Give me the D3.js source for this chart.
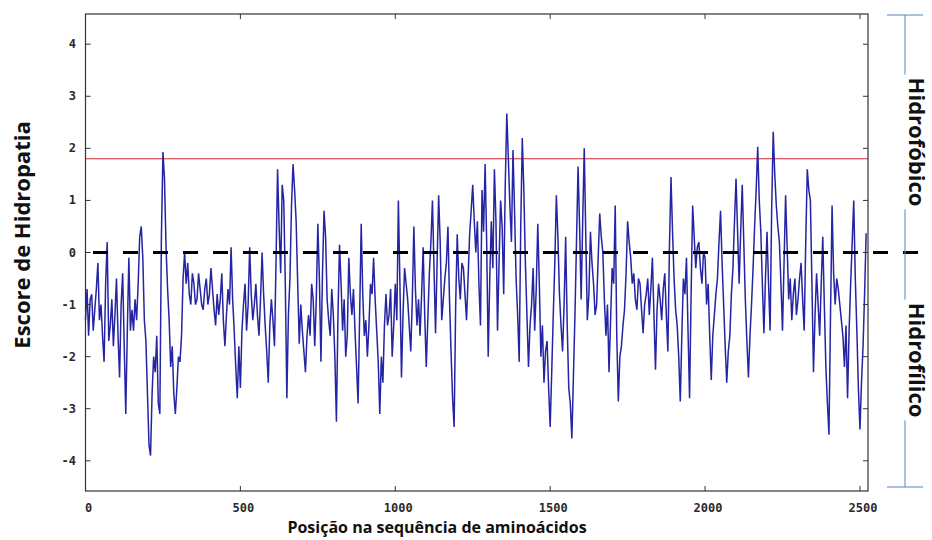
<!DOCTYPE html>
<html>
<head>
<meta charset="utf-8">
<script src="https://cdn.jsdelivr.net/npm/d3@7"></script>
<style>
  body { margin: 0; background: #fff; }
  svg { display: block; }
  .tick-label { font-family: "DejaVu Sans Mono", monospace; font-weight: bold; font-size: 12px; fill: #2a2a2a; }
  .title { font-family: "Open Sans", "Noto Sans", sans-serif; font-weight: bold; fill: #111; }
</style>
</head>
<body>
<svg id="chart" width="932" height="540"></svg>
<script>
// --- dados: escore de hidropatia (uma leitura a cada 5 resíduos) ---
const step = 5;
const hydropathy = [
  // 0 - 420
  -1.3, -0.7, -1.6, -0.9, -0.8, -1.5, -1.1, -0.7, -0.2, -1.3,
  -1.0, -1.6, -2.1, -0.6, 0.2, -1.7, -1.4, -0.9, -1.8, -1.2,
  -0.5, -1.6, -2.4, -1.0, -0.4, -1.8, -3.1, -1.5, -0.1, -1.5,
  -1.1, -1.5, -0.9, -1.3, -0.6, 0.3, 0.5, -0.1, -1.3, -1.7,
  -2.7, -3.7, -3.9, -2.7, -2.0, -2.3, -1.6, -2.9, -3.1, 0.3,
  1.93, 1.4, 0.1, -0.7, -1.3, -2.2, -1.8, -2.7, -3.1, -2.6,
  -2.0, -2.1, -1.6, -0.5, 0.0, -0.6, -0.2, -0.8, -1.0, -0.4,
  -0.6, -1.0, -0.9, -0.4, -0.7, -1.0, -1.1, -0.7, -0.5, -1.0,
  -0.8, -0.3, -0.7, -1.1, -1.4,
  // 425 - 840
  -0.8, -1.2, -0.9, -0.4, -1.3, -1.8, -1.2, -0.7, -1.0, 0.1,
  -0.9, -1.5, -2.2, -2.8, -1.8, -2.6, -1.5, -1.0, -0.6, -1.5,
  -1.0, 0.1, -0.8, -1.3, -1.0, -0.6, -1.2, -1.6, -0.9, 0.0,
  -0.8, -1.4, -1.9, -2.5, -1.4, -0.9, -1.3, -1.8, -0.2, 1.6,
  0.5, -0.4, 1.3, 1.0, -0.6, -2.8, -1.2, -0.5, 0.9, 1.7,
  1.2, 0.6, -0.6, -1.75, -1.0, -1.5, -1.9, -2.3, -1.6, -1.2,
  -1.6, -0.6, -0.9, -1.8, -0.9, 0.55, -0.5, -2.1, -0.4, 0.8,
  0.3, -0.9, -1.3, -1.6, -0.7, -1.2, -2.0, -3.25, -1.2, 0.15,
  -0.6, -1.5, -0.9, -2.0,
  // 845 - 1260
  -1.6, -0.1, -0.8, -1.2, -0.7, -1.5, -2.2, -2.9, -1.2, 0.55,
  -0.8, -1.6, -1.3, -2.0, -1.4, -0.6, -0.8, -0.1, -0.9, -1.5,
  -2.1, -3.1, -2.0, -2.5, -1.4, -0.8, -1.4, -1.2, -0.7, -2.0,
  -1.4, -0.6, -1.3, 1.0, -0.6, -2.4, -1.2, -0.3, -0.6, -0.9,
  -1.4, -1.9, -0.9, 0.5, -0.7, -1.4, -0.9, -1.6, -0.8, 0.1,
  -1.2, -2.2, -1.3, -0.4, 0.2, 1.0, -0.3, -1.55, -0.2, 1.1,
  0.2, -1.3, -0.9, -0.5, -0.2, 0.5, -0.9, -1.9, -2.8, -3.35,
  -1.0, 0.35, -0.5, -0.9, -0.2, -0.3, -0.8, -1.3, -0.5, 0.35,
  0.8, 1.3, 0.6, 0.0,
  // 1265 - 1680
  0.6, -0.6, -1.4, 1.2, 0.4, 1.7, 0.2, -2.0, -0.5, 0.6,
  -0.3, 1.6, 0.6, -1.5, -0.2, 1.0, 0.5, -0.8, 1.3, 2.67,
  1.8, 0.9, 0.2, 1.97, 0.8, -0.5, -1.2, -2.1, 0.5, 2.2,
  1.2, -0.2, -1.2, -2.2, -1.4, -1.0, -0.3, -1.5, -0.7, 0.55,
  -0.6, -2.0, -1.4, -2.5, -1.9, -1.7, -2.6, -3.35, -2.3, -1.2,
  -0.2, 1.1, 0.3, -0.8, -1.4, -1.9, -1.0, 0.3, -1.4, -2.6,
  -2.9, -3.57, -2.4, -1.2, 0.2, 1.65, 0.5, -0.9, 0.6, 2.0,
  0.3, -1.3, -0.8, 0.4, -0.2, -0.6, -1.2, -1.0, -0.1, 0.75,
  0.3, 0.0, -0.9, -1.6,
  // 1685 - 2100
  -1.0, -2.3, -1.3, -0.3, -0.6, 0.9, -1.6, -2.86, -2.0, -1.8,
  -1.4, -1.1, -0.4, 0.6, 0.2, -0.1, -0.6, -0.4, -0.9, -1.1,
  -0.5, -0.6, -1.1, -1.55, -1.0, -0.8, -0.5, -1.2, -0.7, -0.1,
  -1.2, -2.25, -1.1, -0.6, -0.9, -1.3, -0.7, -0.4, -1.2, -1.9,
  0.1, 1.45, 0.4, -0.5, -1.1, -1.4, -2.0, -2.86, -1.6, -0.5,
  -0.8, -0.1, -1.5, -2.8, -0.8, 0.9, 0.3, -0.3, 0.1, 0.2,
  -0.3, -0.6, 0.0, -0.1, -1.0, -0.6, -1.6, -2.45, -1.6, -1.2,
  -0.8, -0.5, 0.2, 0.8, -0.2, -1.0, -1.8, -2.5, -1.9, -1.6,
  -0.8, -0.3, 0.6, 1.42,
  // 2105 - 2520
  0.4, -0.6, 0.4, 1.3, 0.2, -0.9, -1.7, -2.4, -1.6, -1.0,
  -0.3, 0.5, 1.2, 2.03, 1.0, 0.4, -0.6, -1.55, -0.5, 0.4,
  -0.6, -1.5, 0.8, 2.32, 1.5, 0.9, 0.5, 0.2, -0.6, -1.5,
  -0.2, 1.1, 0.1, -0.9, -0.5, -1.3, -0.8, -0.5, -1.2, -0.9,
  -0.5, -0.2, -0.9, -1.5, 0.2, 1.6, 1.2, 1.0, -0.6, -2.3,
  -1.2, -0.4, -1.0, -1.6, -0.6, 0.3, -1.0, -2.2, -2.9, -3.5,
  -1.2, 0.9, -0.4, -1.0, -0.5, -0.7, -1.0, -1.3, -1.6, -2.2,
  -1.4, -2.8, -1.5, -0.6, 0.2, 1.0, -0.5, -1.5, -2.6, -3.4,
  -2.5, -1.8, -0.8, 0.37
];
const xTicks = [0, 500, 1000, 1500, 2000, 2500];
const yTicks = [-4, -3, -2, -1, 0, 1, 2, 3, 4];
const threshold = 1.8;   // linha vermelha
const baseline = 0;      // linha tracejada
const sideLabels = ["Hidrofóbico", "Hidrofílico"];

const svg = d3.select("#chart");
const plotL = 85.5, plotR = 868, plotT = 14, plotB = 491;

const x = d3.scaleLinear().domain([0, 2526]).range([plotL, plotR]);
const y = d3.scaleLinear().domain([-4.58, 4.58]).range([plotB, plotT]);

const points = hydropathy.map((v, i) => ({ pos: i * step, v }));

// limiar vermelho
svg.append("line")
  .attr("x1", plotL).attr("x2", plotR)
  .attr("y1", y(threshold)).attr("y2", y(threshold))
  .attr("stroke", "#d2262e").attr("stroke-width", 1);

// série
const line = d3.line().x(d => x(d.pos)).y(d => y(d.v));
svg.append("path")
  .datum(points)
  .attr("d", line)
  .attr("fill", "none")
  .attr("stroke", "#2424a4")
  .attr("stroke-width", 1.5)
  .attr("stroke-linejoin", "miter");

// linha tracejada do zero, atravessa até a borda
svg.append("line")
  .attr("x1", plotL).attr("x2", 932)
  .attr("y1", y(baseline)).attr("y2", y(baseline))
  .attr("stroke", "#000").attr("stroke-width", 3)
  .attr("stroke-dasharray", "15,15").attr("stroke-dashoffset", 22.5);

// moldura e ticks
svg.append("rect")
  .attr("x", plotL).attr("y", plotT)
  .attr("width", plotR - plotL).attr("height", plotB - plotT)
  .attr("fill", "none").attr("stroke", "#333").attr("stroke-width", 1.2);

const tl = 5;
const tickG = svg.append("g").attr("stroke", "#333").attr("stroke-width", 1);
yTicks.forEach(t => {
  tickG.append("line").attr("x1", plotL).attr("x2", plotL + tl).attr("y1", y(t)).attr("y2", y(t));
  tickG.append("line").attr("x1", plotR).attr("x2", plotR - tl).attr("y1", y(t)).attr("y2", y(t));
});
xTicks.forEach(t => {
  tickG.append("line").attr("x1", x(t)).attr("x2", x(t)).attr("y1", plotB).attr("y2", plotB - tl);
  tickG.append("line").attr("x1", x(t)).attr("x2", x(t)).attr("y1", plotT).attr("y2", plotT + tl);
});

svg.append("g").selectAll("text").data(yTicks).join("text")
  .attr("class", "tick-label")
  .attr("x", 76).attr("y", d => y(d) + 4)
  .attr("text-anchor", "end")
  .text(d => d);

svg.append("g").selectAll("text").data(xTicks).join("text")
  .attr("class", "tick-label")
  .attr("x", d => x(d) + 3).attr("y", 512)
  .attr("text-anchor", "middle")
  .text(d => d);

// títulos dos eixos
svg.append("text").attr("class", "title")
  .attr("transform", "translate(30,235) rotate(-90)")
  .attr("text-anchor", "middle")
  .style("font-size", "22px")
  .text("Escore de Hidropatia");

svg.append("text").attr("class", "title")
  .attr("x", 437).attr("y", 533)
  .attr("text-anchor", "middle")
  .style("font-size", "16px")
  .text("Posição na sequência de aminoácidos");

// colchete lateral
const bx = 905;
const br = svg.append("g").attr("stroke", "#4f86c0").attr("stroke-width", 1);
br.append("line").attr("x1", bx).attr("x2", bx).attr("y1", 15).attr("y2", 487);
br.append("line").attr("x1", 887).attr("x2", 923).attr("y1", 15).attr("y2", 15);
br.append("line").attr("x1", 887).attr("x2", 923).attr("y1", 487).attr("y2", 487);

const sideY = [142, 360];
sideLabels.forEach((lab, i) => {
  const g = svg.append("g").attr("transform", `translate(908,${sideY[i]}) rotate(90)`);
  const t = g.append("text").attr("class", "title")
    .attr("text-anchor", "middle").attr("y", -1)
    .style("font-size", "22px")
    .text(lab);
  const bb = t.node().getBBox();
  g.insert("rect", "text")
    .attr("x", bb.x - 3).attr("y", bb.y).attr("width", bb.width + 6).attr("height", bb.height)
    .attr("fill", "#fff");
});
</script>
</body>
</html>
